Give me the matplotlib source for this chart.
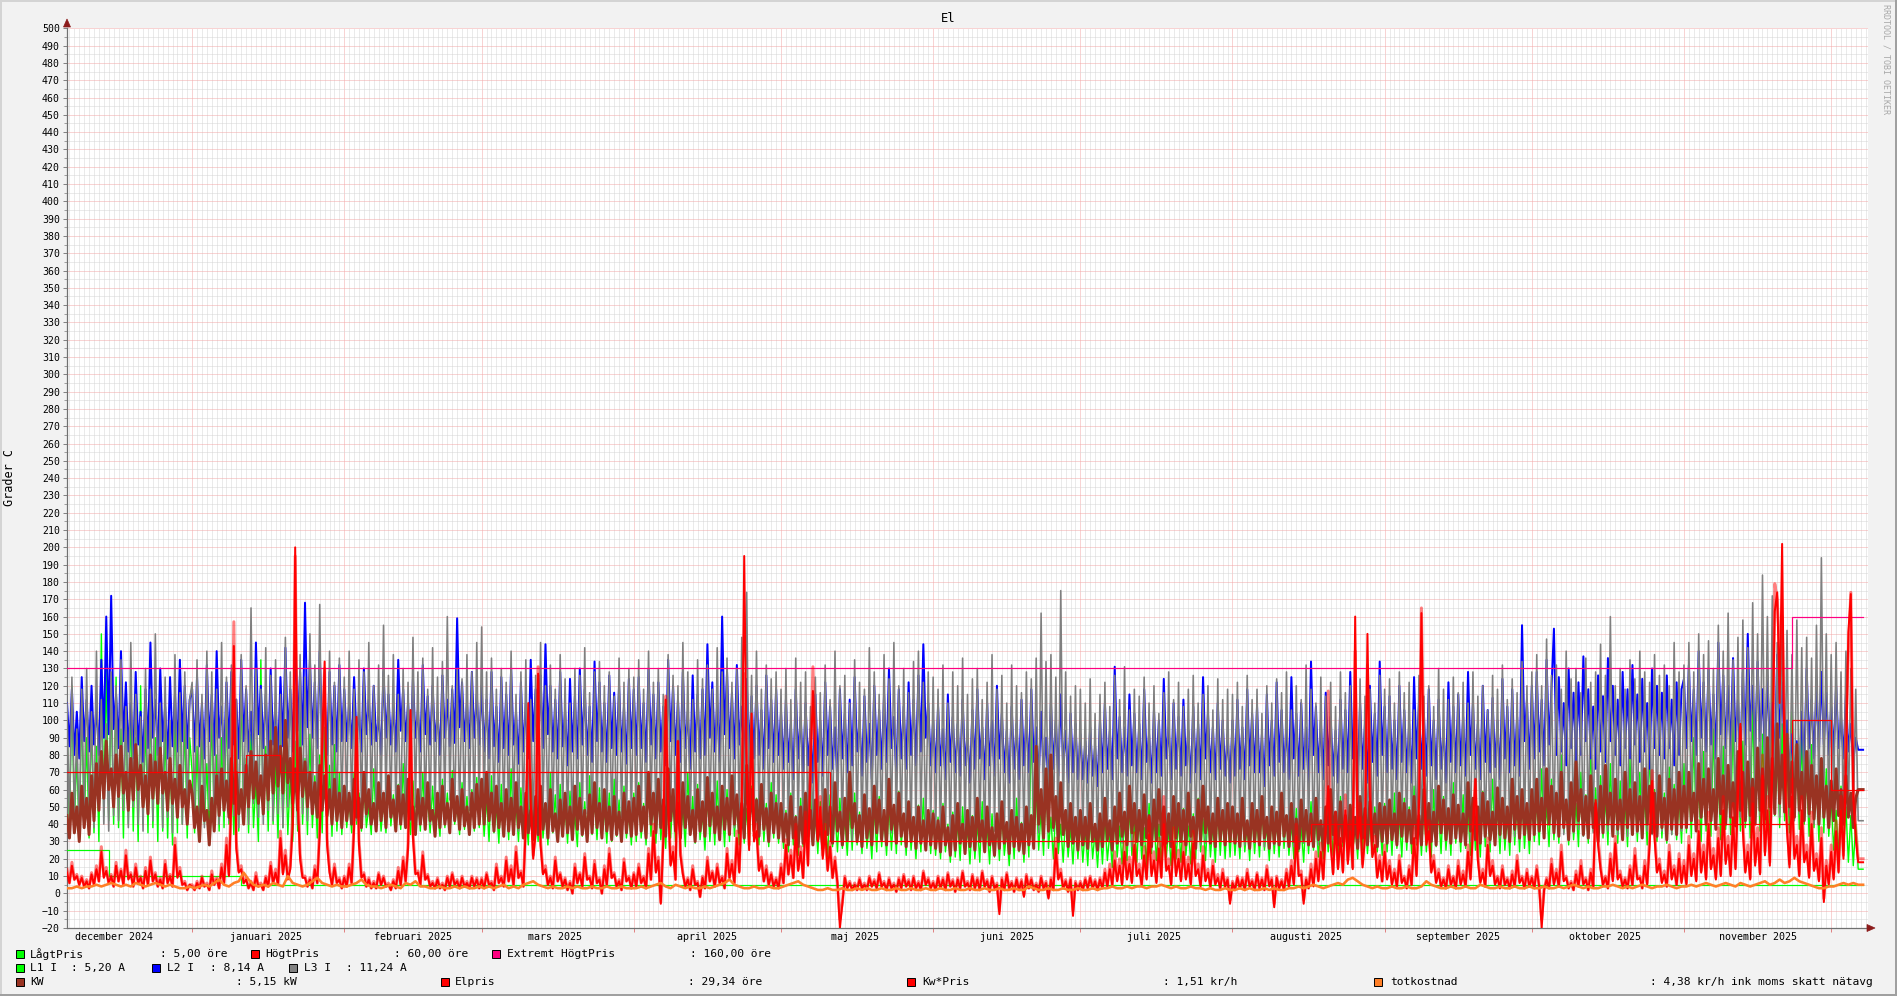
import numpy as np
import matplotlib
matplotlib.use('Agg')
import matplotlib.pyplot as plt
import matplotlib.dates as mdates
from matplotlib.patches import Rectangle, Polygon
from matplotlib.transforms import IdentityTransform, blended_transform_factory
from matplotlib.ticker import MultipleLocator

# ---------------- data ----------------
series_start = '2024-12-06T12:00'   # first sample, samples every 12 h
data_end = '2025-12-07T12:00'

month_starts = ['2024-12-01', '2025-01-01', '2025-02-01', '2025-03-01', '2025-04-01',
                '2025-05-01', '2025-06-01', '2025-07-01', '2025-08-01', '2025-09-01',
                '2025-10-01', '2025-11-01', '2025-12-01', '2026-01-01']
month_labels = ['december 2024', 'januari 2025', 'februari 2025', 'mars 2025', 'april 2025',
                'maj 2025', 'juni 2025', 'juli 2025', 'augusti 2025', 'september 2025',
                'oktober 2025', 'november 2025', 'december 2025']

lagt_dates = ['2024-12-06T12:00', '2024-12-15T00:00', '2025-01-11T00:00']
lagt_vals = [25, 10, 5]
hogt_dates = ['2024-12-06T12:00', '2025-01-12T00:00', '2025-01-19T00:00', '2025-05-11T00:00',
              '2025-08-17T00:00', '2025-11-23T00:00', '2025-12-01T00:00']
hogt_vals = [70, 80, 70, 30, 40, 100, 60]
extrem_dates = ['2024-12-06T12:00', '2025-11-23T00:00']
extrem_vals = [130, 160]

L1 = [
 95,35,120,40,80,30,110,38,90,32, 100,35,85,30,150,45,130,42,115,40,
 125,38,95,32,110,40,105,36,90,30, 120,40,100,35,110,38,90,30,105,36,
 95,32,85,28,110,35,135,40,100,32, 90,
 70,35,85,38,95,40,75,32,105,42, 80,36,90,38,110,40,72,34,88,36,
 120,44,78,35,92,38,65,30,135,45, 85,36,100,40,75,32,95,38,82,34,
 70,30,88,36,105,40,78,34,92,38, 68,32,80,35,96,38,74,33,86,36, 70,34,
 62,38,55,35,70,40,58,36,66,38, 50,34,72,40,60,36,54,35,68,39,
 57,36,63,37,75,40,52,34,65,38, 59,36,70,39,55,35,62,37,48,33,
 66,38,58,35,71,40,53,34,64,37, 56,35,60,36,67,38,
 60,33,55,30,68,35,50,29,63,33, 58,31,72,36,52,30,61,32,47,28,
 66,34,55,30,60,32,49,28,70,35, 57,31,63,33,51,29,59,31,45,27,
 64,33,53,30,68,34,56,31,61,32, 50,29,58,30,66,33,54,30,62,32, 48,28,
 58,30,64,32,52,28,68,33,55,29, 61,31,48,26,66,32,57,30,62,31,
 50,27,70,34,56,29,63,31,47,25, 59,30,54,28,65,32,51,27,60,30,
 67,33,53,28,58,29,49,26,62,31, 55,28,60,30,52,27,64,32,57,29,
 52,26,48,24,58,28,45,22,55,27, 50,25,60,29,46,23,53,26,42,21,
 57,27,49,24,55,26,44,22,51,25, 58,28,47,23,54,26,41,20,50,24,
 56,27,45,22,52,25,48,23,59,28, 46,22,53,25,43,20,51,24,55,26, 47,23,
 48,22,44,20,52,24,40,18,47,21, 42,19,50,23,38,17,45,20,41,18,
 53,24,39,17,46,21,43,19,49,22, 37,16,45,20,55,24,41,18,48,21,
 100,30,60,25,48,22,70,26,44,20, 51,23,40,18,46,21,38,17,44,20,
 42,18,38,16,45,20,36,15,40,17, 44,19,35,15,47,21,39,17,43,19,
 50,22,41,18,46,20,38,16,52,23, 44,19,40,17,48,21,37,16,45,20,
 42,18,49,22,39,17,46,20,55,24, 43,19,47,21,40,18,51,22,45,20, 48,21,
 46,22,42,20,50,24,40,19,47,23, 44,21,52,25,39,19,48,23,43,21,
 55,26,45,22,41,20,49,24,38,18, 47,23,53,25,44,21,40,20,50,24,
 46,22,42,21,56,27,45,22,48,23, 41,20,52,25,47,23,43,21,50,24, 45,22,
 52,24,48,22,58,26,45,21,55,25, 50,23,62,28,47,22,53,24,44,21,
 60,27,49,23,56,25,46,22,64,29, 51,24,57,26,48,22,54,25,45,21,
 59,27,52,24,66,30,50,23,55,25, 47,22,61,28,53,24,58,26,49,23,
 60,30,55,28,72,33,50,27,66,31, 58,29,80,35,54,28,64,31,52,27,
 70,33,57,29,88,36,61,30,68,32, 55,28,75,34,59,29,65,31,53,27,
 78,35,62,30,70,33,56,28,84,36, 60,30,67,32,58,29,73,34,63,31, 57,29,
 75,35,68,32,90,38,62,30,82,36, 70,33,95,40,65,31,85,37,72,34,
 100,42,78,36,88,38,68,32,110,44, 80,36,92,40,75,34,137,45,84,38,
 98,42,76,35,105,44,82,37,90,40, 70,33,86,38,64,30,78,35,72,33,
 55,25,48,20,62,24,50,18,45,16, 40,14]

L2 = [
 110,85,118,80,105,78,125,88,112,82, 120,86,108,80,135,90,160,92,172,95,
 115,84,140,88,122,82,110,78,128,86, 105,76,118,84,145,90,112,80,130,88,
 108,78,125,85,115,82,135,88,120,84, 112,
 118,82,125,85,110,78,132,88,115,80, 140,90,108,76,122,84,128,86,112,78,
 135,88,118,82,105,74,145,92,120,84, 115,80,130,86,110,76,125,85,142,90,
 118,82,150,94,128,86,168,96,135,90, 122,84,140,88,115,80,128,86,120,82, 132,88,
 118,88,110,84,125,90,105,82,130,92, 112,86,120,88,102,80,128,90,115,86,
 108,82,135,94,118,88,110,84,124,90, 106,82,132,92,114,86,120,88,104,80,
 126,90,112,85,118,87,159,96,122,88, 110,84,128,90,115,86,
 120,82,112,78,128,85,108,76,125,84, 115,80,130,86,105,75,122,82,110,78,
 135,88,118,80,126,84,144,92,120,82, 112,78,128,85,106,74,124,82,114,78,
 130,86,118,80,108,76,134,88,122,82, 110,76,126,84,116,80,120,82,108,75, 124,84,
 118,80,125,84,110,76,130,86,115,78, 122,82,108,74,135,88,120,80,112,76,
 128,84,105,72,126,82,115,78,118,80, 144,90,122,82,110,76,160,92,128,84,
 116,78,132,86,108,74,124,82,114,78, 120,80,106,72,126,84,112,76,118,80,
 105,72,112,76,98,66,118,78,102,70, 110,74,95,64,115,76,100,68,122,80,
 108,72,96,64,118,78,104,70,112,74, 125,82,100,68,114,76,98,66,120,80,
 106,72,115,76,130,84,102,68,118,78, 108,72,122,80,112,74,126,82,144,90, 110,74,
 100,70,108,74,95,66,115,76,102,70, 98,68,112,74,92,64,106,72,118,78,
 96,66,110,74,100,68,120,78,104,70, 94,64,108,72,98,66,112,74,102,70,
 118,76,96,66,105,70,90,62,110,72, 100,68,115,74,94,64,104,70,98,66,
 92,66,88,64,96,68,85,62,100,70, 110,72,94,66,131,78,102,70,96,68,
 115,74,104,70,98,66,118,76,92,64, 106,70,100,68,124,78,96,66,110,72,
 102,68,112,74,94,64,108,70,98,66, 125,78,104,70,96,66,110,72,100,68, 92,64,
 100,68,112,72,96,66,118,74,104,70, 108,70,92,62,115,74,100,68,122,76,
 106,70,98,66,125,78,104,68,110,72, 96,64,134,80,108,70,100,66,116,74,
 102,68,94,64,112,72,106,70,128,78, 100,66,110,72,98,64,120,76,104,68, 134,80,
 108,70,114,72,100,66,120,76,106,70, 98,64,125,78,110,72,104,68,118,74,
 100,66,112,72,96,64,122,76,108,70, 115,74,102,68,128,80,110,72,98,66,
 120,76,106,70,113,73,100,66,124,78, 108,70,118,74,102,68,155,88,112,72,
 120,78,128,82,112,74,135,86,118,153, 80,125,82,110,74,130,84,116,76,122,
 80,137,88,118,78,108,72,126,82,114, 76,136,88,120,80,112,74,128,84,118,
 78,132,86,115,76,124,82,110,72,130, 84,120,80,116,78,126,84,112,74,122, 80,118,
 124,84,132,88,118,80,140,90,122,82, 130,86,115,78,145,92,126,84,120,80,
 136,88,112,76,128,86,150,94,120,82, 134,88,118,80,126,84,110,74,138,90,
 122,82,100,70,92,64,88,62,105,72, 130,84,112,78,120,82,128,86,116,80,
 108,80,120,84,102,78,115,82,98,76, 90,83]

L3 = [
 110,40,125,45,95,35,118,42,130,48, 105,38,140,50,112,40,98,36,128,45,
 120,42,135,48,108,38,145,50,115,40, 102,36,130,46,118,42,150,52,110,38,
 125,44,100,35,138,48,116,40,128,45, 112,
 122,42,135,46,115,38,140,48,128,44, 118,40,145,50,125,42,132,45,112,38,
 138,46,120,40,165,52,130,44,118,40, 142,48,126,42,135,46,115,38,148,50,
 128,44,120,40,138,46,125,42,150,50, 132,44,167,54,128,44,140,48,122,42, 136,46,
 125,45,140,48,118,42,135,46,128,44, 145,50,120,42,132,46,155,52,126,44,
 138,48,115,40,130,45,122,42,148,50, 128,44,136,46,118,40,142,48,125,44,
 134,46,160,54,120,42,130,45,124,42, 138,48,128,44,145,50,
 154,50,128,42,136,45,118,38,130,42, 122,40,140,46,115,36,128,42,135,44,
 112,36,126,40,145,48,120,38,132,42, 118,36,138,44,124,40,110,34,130,42,
 126,40,142,46,116,36,128,42,134,44, 120,38,128,40,114,35,136,44,122,38, 130,42,
 125,40,135,44,118,38,140,46,122,40, 130,42,115,36,138,45,126,40,120,38,
 145,48,128,42,112,35,135,44,124,40, 132,42,118,37,142,46,128,40,136,44,
 122,38,130,42,148,46,174,52,126,40, 140,45,118,36,132,42,124,38,128,40,
 118,34,130,38,112,32,136,40,122,35, 128,36,108,30,125,35,116,33,132,38,
 112,32,140,40,120,34,126,36,110,30, 135,38,122,34,118,33,142,40,128,36,
 115,32,138,38,124,35,145,40,120,34, 130,36,116,32,134,38,140,40,122,34, 128,36,
 125,32,118,30,132,35,110,28,128,33, 120,31,136,36,115,29,124,32,130,34,
 112,28,122,31,138,36,118,30,126,33, 110,28,132,35,120,31,116,30,128,34,
 124,32,136,35,162,40,134,35,138,36, 125,32,175,42,128,33,114,29,120,31,
 118,30,110,28,124,32,104,27,115,29, 122,31,108,28,126,33,112,29,131,34,
 106,27,118,30,114,29,125,32,110,28, 120,31,104,27,116,30,128,33,112,29,
 122,31,108,28,118,30,126,32,110,28, 115,29,120,31,106,27,124,32,112,29, 118,30,
 115,29,122,31,108,28,126,33,112,29, 118,30,104,27,120,31,110,28,124,32,
 116,30,128,33,106,27,120,31,112,29, 132,34,118,30,110,28,125,32,114,29,
 122,31,108,28,128,33,116,30,120,31, 106,27,124,32,114,29,118,30,110,28, 126,32,
 118,32,124,34,110,30,128,35,116,31, 122,33,106,29,126,34,114,31,120,33,
 108,29,130,35,118,32,112,30,125,34, 116,31,122,33,110,30,128,35,114,31,
 120,32,106,29,126,34,118,32,132,36, 112,30,124,33,116,31,134,36,120,33,
 128,36,138,40,120,34,147,42,126,36, 132,38,118,34,140,40,124,35,130,37,
 116,33,136,39,122,35,128,36,144,41, 126,36,160,45,120,34,130,37,118,33,
 135,38,124,35,140,40,128,36,122,34, 138,39,126,36,132,38,120,34,145,42, 128,36,
 132,40,145,44,128,38,150,45,138,42, 146,44,130,40,155,46,140,42,162,48,
 135,40,148,44,158,46,142,42,168,50, 150,45,184,54,160,48,172,50,145,44,
 165,48,152,45,138,42,158,46,142,42, 148,44,136,40,155,46,194,56,150,45,
 138,48,145,50,128,44,140,46,130,45, 118,42]

KW = [
 45,32,58,35,50,30,62,38,55,34, 68,42,75,48,82,55,88,60,72,50,
 80,56,85,58,70,48,78,54,86,60, 74,50,68,46,80,55,76,52,84,58,
 70,48,78,52,66,44,74,50,60,40, 65,
 58,38,50,30,62,42,48,28,55,36, 68,45,72,48,65,44,78,52,70,46,
 60,40,74,50,82,55,76,52,68,46, 80,54,88,58,96,62,85,58,100,64,
 78,52,72,48,84,56,76,50,70,46, 64,44,74,48,68,45,60,40,66,42, 58,38,
 62,42,58,40,66,44,55,38,70,46, 60,40,52,36,64,42,58,38,68,44,
 54,36,62,40,57,38,66,43,50,34, 60,40,55,37,64,42,48,33,58,38,
 62,40,52,35,66,42,56,37,60,39, 50,34,58,38,63,40,
 66,40,70,42,58,36,62,38,52,33, 60,36,55,34,64,38,50,32,58,35,
 48,31,56,34,62,37,52,32,60,36, 46,30,54,33,58,35,50,31,62,37,
 55,34,48,30,57,35,64,38,52,32, 60,36,50,31,56,34,47,30,58,35, 53,33,
 55,34,62,36,50,32,70,40,58,35, 66,38,54,33,72,42,60,36,52,32,
 64,38,56,34,48,30,60,36,53,33, 67,39,58,35,50,31,62,37,55,34,
 68,40,57,35,52,32,74,42,60,36, 54,33,63,37,49,30,58,35,52,32,
 52,30,46,28,56,32,44,27,50,29, 58,33,48,28,54,31,42,26,60,34,
 50,29,64,36,47,28,55,31,70,38, 52,30,45,27,57,32,49,28,62,35,
 54,31,48,28,66,37,51,29,58,33, 46,27,53,30,44,26,50,29,42,25, 48,28,
 46,26,42,24,50,28,38,22,45,25, 52,29,40,23,48,27,44,25,55,30,
 42,24,50,28,38,22,46,26,53,29, 41,23,48,27,44,25,40,23,50,28,
 45,26,85,40,60,32,72,36,80,38, 56,30,64,34,48,27,52,29,44,25,
 48,28,44,26,52,30,40,25,46,27, 55,31,42,25,50,29,58,33,47,28,
 62,35,52,30,48,28,57,32,45,27, 54,31,60,34,50,29,46,27,56,32,
 52,30,48,28,58,33,44,26,54,31, 62,35,50,29,46,27,55,31,48,28, 52,30,
 50,29,46,27,55,31,42,26,52,30, 48,28,56,32,44,26,50,29,47,28,
 58,33,45,27,52,30,43,26,54,31, 48,28,46,27,55,31,42,25,50,29,
 60,34,47,28,53,30,45,27,51,29, 44,26,56,32,49,28,53,30,46,27, 52,30,
 50,29,54,31,46,28,58,33,52,30, 48,29,56,32,45,28,60,34,52,30,
 47,28,62,35,54,31,49,29,57,32, 51,30,46,28,64,36,55,31,50,29,
 58,33,53,31,47,28,61,34,55,32, 50,30,66,37,56,32,60,34,52,31,
 60,34,66,36,55,32,72,40,62,35, 58,33,70,38,54,31,64,36,76,42,
 60,34,56,32,68,38,52,30,62,35, 74,40,58,33,66,37,54,31,70,38,
 60,34,64,36,56,32,72,40,62,35, 58,33,68,38,55,31,66,37,60,34, 70,38,
 62,38,70,42,58,36,75,44,66,40, 72,42,60,37,78,46,68,40,74,44,
 64,39,82,48,70,42,76,45,66,40, 84,48,72,43,90,50,78,46,98,52,
 80,47,92,50,76,44,86,48,70,42, 82,46,74,43,68,40,78,44,62,38,
 65,42,72,45,60,40,68,44,58,38, 55,60]

ELPRIS = [
 12,6,16,8,10,5,9,4,7,3, 11,5,14,7,24,9,13,6,10,4,
 16,7,13,5,22,8,11,4,15,6, 9,3,13,5,19,7,11,4,8,3,
 17,6,10,4,28,9,13,5,6,2, 5,
 4,2,6,3,9,4,5,2,11,5, 8,3,15,6,28,10,55,143,26,12,
 14,6,8,3,6,2,10,4,5,2, 9,4,16,6,12,5,32,11,22,8,
 14,40,200,55,20,9,9,4,8,3, 14,6,35,85,134,28,12,5,15,6, 8,3,
 9,4,15,6,38,102,28,9,11,4, 8,3,6,3,11,5,9,4,5,2,
 7,3,13,5,19,7,26,106,32,11, 12,5,22,8,10,4,6,3,8,3,
 5,2,9,4,11,5,7,3,9,4, 6,3,9,4,8,3,
 8,3,11,5,6,2,15,6,9,4, 19,7,14,5,24,9,12,4,40,110,
 52,20,35,127,28,11,14,5,9,3, 19,7,11,4,8,2,6,0,15,6,
 11,4,21,8,9,3,17,6,8,0, 14,5,23,9,11,4,7,2,18,7, 9,3,
 11,4,15,6,9,3,23,8,36,12, 19,-6,30,112,50,16,24,8,88,22,
 11,4,8,2,14,5,6,-2,9,3, 19,7,12,4,15,6,9,3,23,9,
 17,6,32,12,50,195,70,25,104,30, 36,13,19,7,14,5,11,4,8,3,
 15,6,28,11,22,9,36,13,24,9, 42,16,70,117,80,30,50,20,36,13,
 27,9,19,6,-20,-6,9,3,6,2, 5,2,8,3,5,2,9,4,7,3,
 11,4,6,2,8,3,5,1,8,3, 10,4,7,2,9,3,6,2,12,5, 8,3,
 6,2,9,3,8,2,11,4,7,1, 8,3,12,4,6,2,10,3,8,2,
 12,4,7,1,9,3,5,-12,8,2, 11,3,6,1,8,2,7,-2,10,3,
 8,2,5,1,9,3,6,-3,8,2, 26,8,12,3,7,1,8,-13,6,2,
 6,2,8,3,9,3,7,2,8,3, 12,4,14,5,19,7,16,5,24,8,
 17,6,28,10,14,5,22,8,34,10, 19,6,26,9,40,13,16,5,30,10,
 20,7,24,8,17,5,29,10,14,4, 22,7,12,4,16,5,9,3,12,4, 8,-6,
 6,2,9,3,8,2,12,4,7,2, 11,3,8,2,14,4,8,-8,9,3,
 7,2,12,4,16,5,33,10,11,-6, 8,3,14,4,20,7,24,8,36,62,
 28,11,40,14,32,12,48,17,36,14, 160,32,44,15,32,150,56,21,28,9, 19,7,
 24,8,16,5,12,4,19,6,9,3, 14,5,32,10,50,162,65,28,36,12,
 19,6,12,4,8,3,14,5,9,3, 16,5,11,4,24,8,36,66,19,6,
 12,4,28,10,16,5,9,3,14,5, 8,3,11,4,19,6,9,3,12,4,
 9,3,14,4,-20,2,8,3,17,5, 12,4,24,7,9,3,6,2,11,4,
 16,5,8,2,12,4,54,28,14,5, 9,3,20,7,29,8,11,4,8,3,
 14,5,22,8,9,3,16,5,28,65, 32,12,17,6,11,4,24,8,14,5, 20,6,
 16,5,28,10,20,7,36,12,24,8, 40,14,22,8,32,10,48,17,28,10,
 44,14,56,98,36,12,24,8,52,16, 32,11,68,22,48,16,72,163,174,110,
 202,70,36,15,56,20,28,10,48,18, 24,9,40,13,20,7,32,-5,16,5,
 24,8,36,12,48,20,70,151,173,55, 32,18]

KWPRIS = [
 14,6,18,8,11,5,10,4,8,3, 12,5,16,7,27,10,15,6,11,4,
 18,7,14,5,25,9,12,4,17,6, 10,3,15,5,21,7,12,4,9,3,
 19,6,11,4,32,10,15,5,7,2, 5,
 5,2,7,3,10,4,6,2,13,5, 9,3,17,6,32,11,62,157,30,13,
 16,6,9,3,7,2,12,4,6,2, 10,4,18,6,14,5,36,12,25,9,
 16,45,195,62,23,10,10,4,9,3, 16,6,40,95,130,32,14,5,17,6, 9,3,
 10,4,17,6,42,95,31,10,12,4, 9,3,7,3,12,5,10,4,6,2,
 8,3,15,5,21,7,29,100,36,12, 13,5,24,8,11,4,7,3,9,3,
 6,2,10,4,12,5,8,3,10,4, 7,3,10,4,9,3,
 9,3,12,5,7,2,17,6,10,4, 21,7,16,5,27,9,13,4,45,100,
 58,22,39,131,31,12,16,5,10,3, 21,7,12,4,9,2,7,0,17,6,
 12,4,23,8,10,3,19,6,9,0, 16,5,26,9,12,4,8,2,20,7, 10,3,
 12,4,17,6,10,3,26,8,40,13, 21,-5,33,114,56,17,27,8,88,24,
 12,4,9,2,16,5,7,-2,10,3, 21,7,13,4,17,6,10,3,26,9,
 19,6,36,13,56,127,78,28,95,33, 40,14,21,7,16,5,12,4,9,3,
 17,6,31,11,25,9,40,14,27,9, 47,17,78,131,90,33,56,22,40,14,
 30,9,21,6,-15,-5,10,3,7,2, 6,2,9,3,6,2,10,4,8,3,
 12,4,7,2,9,3,6,1,9,3, 11,4,8,2,10,3,7,2,13,5, 9,3,
 7,2,10,3,9,2,12,4,8,1, 9,3,13,4,7,2,11,3,9,2,
 13,4,8,1,10,3,6,-10,9,2, 12,3,7,1,9,2,8,-1,11,3,
 9,2,6,1,10,3,7,-2,9,2, 32,9,14,3,8,1,9,-10,7,2,
 7,2,9,3,10,3,8,2,9,3, 14,4,17,5,24,8,20,6,30,9,
 21,7,35,11,17,5,27,9,44,12, 24,7,32,10,56,15,20,6,38,12,
 25,8,30,9,21,6,36,11,17,5, 27,8,14,4,19,6,11,3,14,4, 9,-4,
 7,2,10,3,9,2,14,4,8,2, 12,3,9,2,16,5,9,-6,10,3,
 8,2,14,4,19,6,40,11,13,-4, 9,3,17,5,24,8,29,9,44,117,
 33,12,47,15,38,13,57,19,42,15, 140,38,52,17,38,132,66,23,33,10, 22,7,
 28,9,19,6,14,4,22,7,10,3, 16,5,38,11,60,165,78,31,42,13,
 22,7,14,4,9,3,16,5,10,3, 19,6,13,4,28,9,42,66,22,7,
 14,4,32,11,19,6,10,3,16,5, 9,3,13,4,22,7,10,3,14,4,
 10,3,16,4,-15,2,9,3,20,6, 14,4,28,8,10,3,7,2,13,4,
 19,6,9,2,14,4,50,32,16,5, 10,3,23,8,33,9,13,4,9,3,
 16,5,26,9,10,3,19,6,33,71, 38,13,20,7,13,4,28,9,16,5, 23,7,
 19,6,33,11,23,8,42,13,28,9, 47,15,26,9,38,11,56,19,33,11,
 52,15,66,96,42,13,28,9,61,18, 38,12,80,24,56,18,87,179,170,140,
 160,95,42,17,66,22,33,11,56,20, 28,10,47,14,23,8,38,-3,19,6,
 28,9,42,13,56,22,95,140,174,62, 38,20]

# totkostnad, one sample per day from the same start
TOTKOSTNAD = [
 3,3,4,3,4,4,5,4,5,6, 5,4,5,4,6,5,4,5,6,5, 4,5,4,3,3,4,
 3,4,5,4,6,8,5,4,6,7, 12,8,5,4,5,4,6,5,4,10, 6,5,4,5,7,9,6,5,4,5, 4,
 4,5,6,8,5,4,4,3,4,5, 4,3,6,5,7,4,4,3,3,4, 3,3,4,3,4,3,3,4,
 3,4,3,4,5,3,4,3,5,6, 7,5,4,3,4,3,3,4,3,4, 3,3,4,3,3,4,3,3,4,3, 3,
 3,4,3,4,5,6,4,3,5,4, 3,4,3,3,4,3,4,5,6,8, 5,4,3,3,4,3,3,4,3,3,
 4,5,6,7,5,4,3,2,2,3, 2,2,3,2,2,3,2,3,2,2, 3,2,2,3,2,2,3,2,2,3, 2,
 2,3,2,2,3,2,2,3,2,2, 3,2,2,3,2,2,3,2,2,4, 3,2,2,3,2,2,3,2,2,3,
 2,2,3,2,3,3,4,3,3,4, 3,4,4,3,4,4,5,4,3,4, 3,3,4,3,3,2,3,2,2,3, 2,
 2,3,2,3,2,2,3,2,3,2, 2,3,3,4,3,4,5,4,3,4, 5,6,5,8,9,7,5,4,3,4, 3,
 3,4,3,3,4,3,3,4,7,5, 4,3,3,4,3,3,4,3,3,5, 4,3,3,4,3,3,4,3,3,4,
 3,3,4,3,3,4,3,4,5,4, 3,4,3,3,4,4,5,4,3,4, 3,4,5,4,3,4,4,5,4,3, 4,
 4,5,4,5,6,5,4,5,6,5, 4,6,5,4,5,6,7,5,6,8, 6,7,9,7,6,5,4,3,3,4,
 4,5,6,5,6,5]

legend_rows = [
    [('#00FF00', 'LågtPris', ': 5,00 öre'),
     ('#FF0000', 'HögtPris', ': 60,00 öre'),
     ('#FF0080', 'Extremt HögtPris', ': 160,00 öre')],
    [('#00FF00', 'L1 I', ': 5,20 A'),
     ('#0000FF', 'L2 I', ': 8,14 A'),
     ('#808080', 'L3 I', ': 11,24 A')],
    [('#993322', 'KW', ': 5,15 kW'),
     ('#FF0000', 'Elpris', ': 29,34 öre'),
     ('#FF0000', 'Kw*Pris', ': 1,51 kr/h'),
     ('#FF7F27', 'totkostnad', ': 4,38 kr/h ink moms skatt nätavg')],
]

# ---------------- drawing ----------------
W, H = 1897, 996
MONO = 'DejaVu Sans Mono'
fig = plt.figure(figsize=(W / 100, H / 100), dpi=100, facecolor='#F2F2F2')

left_px, right_px, top_px, bottom_px = 67, 1868, 28.3, 928
ax = fig.add_axes([left_px / W, 1 - bottom_px / H, (right_px - left_px) / W, (bottom_px - top_px) / H])
ax.set_facecolor('white')

start = np.datetime64(series_start)
x_lo = mdates.date2num(start)
x_hi = mdates.date2num(np.datetime64('2025-12-08T12:00'))
ax.set_xlim(x_lo, x_hi)
ax.set_ylim(-20, 500)


def series_xy(values, step_h):
    v = np.asarray(values, float)
    t = start + np.arange(len(v)) * np.timedelta64(step_h, 'h')
    x = mdates.date2num(np.append(t, np.datetime64(data_end)))
    return x, np.append(v, v[-1])


def rule_xy(dates, vals):
    t = np.array([np.datetime64(d) for d in dates] + [np.datetime64(data_end)])
    return mdates.date2num(t), np.append(np.asarray(vals, float), vals[-1])


# grid
ax.xaxis.set_major_locator(mdates.MonthLocator())
ax.xaxis.set_minor_locator(mdates.DayLocator())
ax.yaxis.set_major_locator(MultipleLocator(10))
ax.yaxis.set_minor_locator(MultipleLocator(5))
ax.grid(which='minor', color='#D6D6D6', linestyle=(0, (1, 1)), linewidth=0.72, zorder=0)
ax.grid(which='major', color='#F3A8A8', linestyle=(0, (1, 1)), linewidth=0.72, zorder=0)
ax.set_axisbelow(True)

px = 0.72  # one pixel in points
ax.plot(*series_xy(L1, 12), color='#00FF00', lw=1.4 * px, zorder=2)
ax.plot(*series_xy(L2, 12), color='#0000FF', lw=2.0 * px, zorder=3)
ax.plot(*series_xy(L3, 12), color='#7F7F7F', lw=1.6 * px, zorder=4)
ax.plot(*series_xy(KW, 12), color='#993322', lw=3.0 * px, zorder=5)
ax.plot(*rule_xy(lagt_dates, lagt_vals), drawstyle='steps-post', color='#00FF00', lw=1.2 * px, zorder=6)
ax.plot(*rule_xy(hogt_dates, hogt_vals), drawstyle='steps-post', color='#FF0000', lw=1.2 * px, zorder=6)
ax.plot(*rule_xy(extrem_dates, extrem_vals), drawstyle='steps-post', color='#FF0080', lw=1.2 * px, zorder=6)
ax.plot(*series_xy(ELPRIS, 12), color='#FF0000', lw=2.0 * px, zorder=7)
ax.plot(*series_xy(KWPRIS, 12), color='#FF0000', alpha=0.5, lw=3.0 * px, zorder=8)
ax.plot(*series_xy(TOTKOSTNAD, 24), color='#FF7F27', lw=2.6 * px, zorder=9)

# axes styling
for s in ('top', 'right'):
    ax.spines[s].set_visible(False)
for s in ('left', 'bottom'):
    ax.spines[s].set_color('#707070')
    ax.spines[s].set_linewidth(0.9)
ax.tick_params(axis='y', which='major', length=3, width=0.7, color='#808080', pad=2, labelsize=7.1)
ax.tick_params(axis='y', which='minor', length=2, width=0.6, color='#909090')
ax.tick_params(axis='x', which='major', length=3, width=0.7, color='#E08080', labelbottom=False)
ax.tick_params(axis='x', which='minor', length=0)
for lab in ax.get_yticklabels():
    lab.set_fontfamily(MONO)

# month labels centred in each month
trans = blended_transform_factory(ax.transData, ax.transAxes)
ms = [np.datetime64(m) for m in month_starts]
for i, lab in enumerate(month_labels):
    mid = ms[i] + (ms[i + 1] - ms[i]) / 2
    xm = mdates.date2num(mid)
    if x_lo < xm < x_hi:
        ax.text(xm, -9 / (bottom_px - top_px), lab, transform=trans, ha='center', va='center',
                fontsize=7.2, family=MONO, color='black', clip_on=False)

# arrows
idt = IdentityTransform()
fig.add_artist(Polygon([[63.5, H - 27], [70.5, H - 27], [67, H - 19]], closed=True,
                       facecolor='#8B1A1A', edgecolor='#8B1A1A', lw=0.5, transform=idt))
fig.add_artist(Polygon([[1867, H - 924.5], [1867, H - 931.5], [1875, H - 928]], closed=True,
                       facecolor='#8B1A1A', edgecolor='#8B1A1A', lw=0.5, transform=idt))

# frame
fig.add_artist(Rectangle((0, H - 2), W, 2, facecolor='#D4D4D4', edgecolor='none', transform=idt))
fig.add_artist(Rectangle((0, 0), 2, H, facecolor='#D4D4D4', edgecolor='none', transform=idt))
fig.add_artist(Rectangle((0, 0), W, 2, facecolor='#A0A0A0', edgecolor='none', transform=idt))
fig.add_artist(Rectangle((W - 2, 0), 2, H, facecolor='#A0A0A0', edgecolor='none', transform=idt))

# title, axis label, watermark
fig.text(0.5, 1 - 19 / H, 'El', ha='center', va='center', fontsize=8.7, family=MONO)
fig.text(10 / W, 1 - 478 / H, 'Grader C', rotation=90, ha='center', va='center', fontsize=8.5, family=MONO)
fig.text(1886 / W, 1 - 4 / H, 'RRDTOOL / TOBI OETIKER', rotation=270, ha='center', va='top',
         fontsize=6, family=MONO, color='#A8A8A8')

# legend
row_y = [954, 968, 982]
row_pos = [
    [(16, 30, 160), (251, 265, 394), (492, 507, 690)],
    [(16, 30, 71), (152, 167, 210), (289, 304, 346)],
    [(16, 30, 236), (441, 455, 688), (907, 922, 1163), (1374, 1390, 1650)],
]
for r, (items, poss) in enumerate(zip(legend_rows, row_pos)):
    y = row_y[r]
    for (col, name, val), (bx, tx, vx) in zip(items, poss):
        fig.add_artist(Rectangle((bx, H - y - 4), 7.5, 8, facecolor=col, edgecolor='black',
                                 lw=0.7, transform=idt))
        fig.text(tx / W, 1 - y / H, name, ha='left', va='center', fontsize=8.1, family=MONO)
        fig.text(vx / W, 1 - y / H, val, ha='left', va='center', fontsize=8.1, family=MONO)

fig.savefig('out.png', dpi=100, facecolor=fig.get_facecolor())
